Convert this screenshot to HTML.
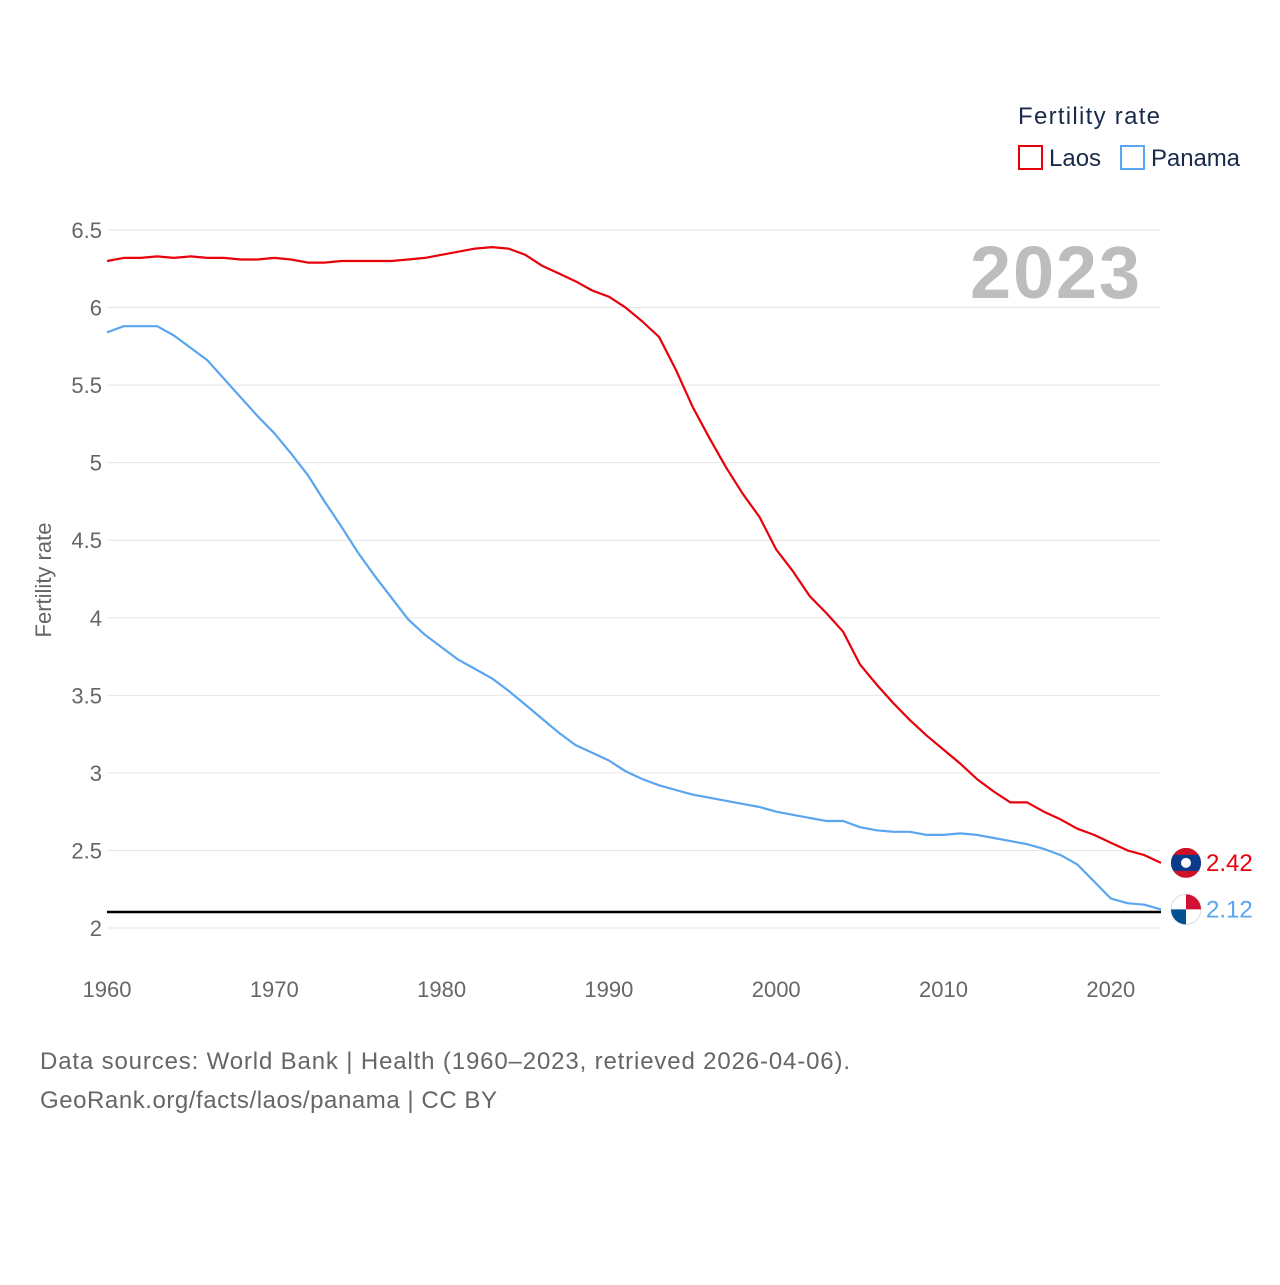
<!DOCTYPE html>
<html><head><meta charset="utf-8"><style>
body{margin:0;background:#fff;font-family:"Liberation Sans",sans-serif}
svg text{font-family:"Liberation Sans",sans-serif}
</style></head><body>
<svg width="1280" height="1280" xmlns="http://www.w3.org/2000/svg">
<g id="grid"></g>
<g id="yticks"></g>
<g id="xticks"></g>
<text x="1140" y="298" text-anchor="end" font-size="74" font-weight="bold" fill="#bdbdbd" textLength="170">2023</text>
<text transform="translate(51,580) rotate(-90)" text-anchor="middle" font-size="22" fill="#666">Fertility rate</text>
<text x="1018" y="124" font-size="24" fill="#1a2a4a" textLength="142">Fertility rate</text>
<g><rect x="1019" y="146" width="23" height="23" fill="none" stroke="#e8000b" stroke-width="2"/><text x="1049" y="166" font-size="24" fill="#1a2a4a">Laos</text></g>
<g><rect x="1121" y="146" width="23" height="23" fill="none" stroke="#5aa5f0" stroke-width="2"/><text x="1151" y="166" font-size="24" fill="#1a2a4a" textLength="89">Panama</text></g>
<line x1="107" x2="1161" y1="912" y2="912" stroke="#000" stroke-width="2.5"/>
<g id="series"></g>
<text x="40" y="1069" font-size="24" fill="#666" textLength="810">Data sources: World Bank | Health (1960–2023, retrieved 2026-04-06).</text>
<text x="40" y="1108" font-size="24" fill="#666" textLength="457">GeoRank.org/facts/laos/panama | CC BY</text>
</svg>
<script>
const years=[];for(let y=1960;y<=2023;y++)years.push(y);
const laos=[6.30,6.32,6.32,6.33,6.32,6.33,6.32,6.32,6.31,6.31,6.32,6.31,6.29,6.29,6.30,6.30,6.30,6.30,6.31,6.32,6.34,6.36,6.38,6.39,6.38,6.34,6.27,6.22,6.17,6.11,6.07,6.00,5.91,5.81,5.60,5.36,5.16,4.97,4.80,4.65,4.44,4.30,4.14,4.03,3.91,3.70,3.57,3.45,3.34,3.24,3.15,3.06,2.96,2.88,2.81,2.81,2.75,2.70,2.64,2.60,2.55,2.50,2.47,2.42];
const panama=[5.84,5.88,5.88,5.88,5.82,5.74,5.66,5.54,5.42,5.30,5.19,5.06,4.92,4.75,4.59,4.42,4.27,4.13,3.99,3.89,3.81,3.73,3.67,3.61,3.53,3.44,3.35,3.26,3.18,3.13,3.08,3.01,2.96,2.92,2.89,2.86,2.84,2.82,2.80,2.78,2.75,2.73,2.71,2.69,2.69,2.65,2.63,2.62,2.62,2.60,2.60,2.61,2.60,2.58,2.56,2.54,2.51,2.47,2.41,2.30,2.19,2.16,2.15,2.12];
const yTicks=[2,2.5,3,3.5,4,4.5,5,5.5,6,6.5];
const xTicks=[1960,1970,1980,1990,2000,2010,2020];
const NS="http://www.w3.org/2000/svg";
const X=y=>107+(y-1960)*(1161-107)/63;
const Y=v=>928-(v-2)*(928-230)/4.5;
function mk(t,a,p){const e=document.createElementNS(NS,t);for(const k in a)e.setAttribute(k,a[k]);p.appendChild(e);return e;}
const g=document.getElementById('grid'),yt=document.getElementById('yticks'),xt=document.getElementById('xticks'),s=document.getElementById('series');
yTicks.forEach(v=>{
 const l=mk('line',{x1:107,x2:1161,y1:Y(v),y2:Y(v),stroke:'#e6e6e6','stroke-width':1},g);
 
 
 const t=mk('text',{x:102,y:Y(v)+8,'text-anchor':'end','font-size':22,fill:'#666'},yt);t.textContent=String(v);
 
 
});
xTicks.forEach(v=>{
 const t=mk('text',{x:X(v),y:997,'text-anchor':'middle','font-size':22,fill:'#666'},xt);t.textContent=String(v);
 
 
});
function line(data,color,name){
 const p=mk('path',{d:data.map((v,i)=>(i?'L':'M')+X(years[i]).toFixed(1)+','+Y(v).toFixed(1)).join(''),fill:'none',stroke:color,'stroke-width':2.2,'stroke-linejoin':'round'},s);
 
 
}
line(laos,'#e8000b','laos');line(panama,'#5aa5f0','panama');
const lv=laos[laos.length-1],pv=panama[panama.length-1];
const f1=mk('g',{},s);


const ly=Y(lv);
mk('clipPath',{id:'c1'},f1);
mk('circle',{cx:1186,cy:ly,r:15},document.getElementById('c1'));
const fg=mk('g',{'clip-path':'url(#c1)'},f1);
mk('rect',{x:1171,y:ly-15,width:30,height:30,fill:'#ce1126'},fg);
mk('rect',{x:1171,y:ly-8,width:30,height:16,fill:'#0a3a8c'},fg);
mk('circle',{cx:1186,cy:ly,r:5,fill:'#fff'},fg);
const t1=mk('text',{x:1206,y:ly+8,'font-size':24,fill:'#e8000b'},s);t1.textContent=lv.toFixed(2);


const f2=mk('g',{},s);


const cy=Y(pv);
mk('circle',{cx:1186,cy:cy,r:15,fill:'#fff',stroke:'#ddd'},f2);
mk('path',{d:`M1186,${cy}L1201,${cy}A15,15 0 0 0 1186,${cy-15}Z`,fill:'#d21034'},f2);
mk('path',{d:`M1186,${cy}L1171,${cy}A15,15 0 0 0 1186,${cy+15}Z`,fill:'#005293'},f2);
const t2=mk('text',{x:1206,y:cy+8,'font-size':24,fill:'#5aa5f0'},s);t2.textContent=pv.toFixed(2);


</script>
</body></html>
